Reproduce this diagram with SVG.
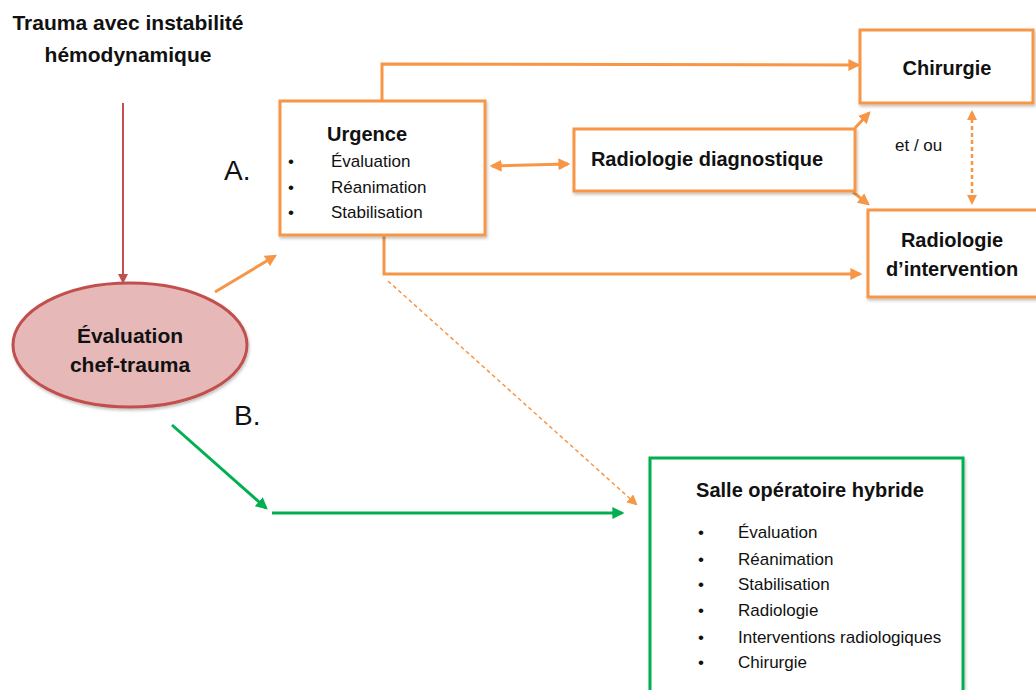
<svg xmlns="http://www.w3.org/2000/svg" width="1036" height="690" viewBox="0 0 1036 690">
<style>
.t{font-family:"Liberation Sans",Arial,sans-serif;fill:#111}
.b{font-weight:bold}
.box{fill:#fff;stroke:#f79646;stroke-width:3}
.gbox{fill:#fff;stroke:#00b050;stroke-width:3}
.o{fill:none;stroke:#f79646;stroke-width:3}
.od{fill:none;stroke:#f79646;stroke-width:1.5;stroke-dasharray:4 3}
.g{fill:none;stroke:#00b050;stroke-width:3}
.r{fill:none;stroke:#c0504d;stroke-width:2}
.lab{font-family:"Liberation Sans",Arial,sans-serif;font-size:28px;fill:#111}
</style>
<defs>
<marker id="ao" viewBox="0 0 10 10" refX="8" refY="5" markerWidth="4" markerHeight="4" orient="auto-start-reverse"><path d="M0,0L10,5L0,10z" fill="#f79646"/></marker>
<marker id="aod" viewBox="0 0 10 10" refX="8" refY="5" markerWidth="7" markerHeight="7" orient="auto-start-reverse"><path d="M0,0L10,5L0,10z" fill="#f79646"/></marker>
<marker id="ag" viewBox="0 0 10 10" refX="8" refY="5" markerWidth="4" markerHeight="4" orient="auto"><path d="M0,0L10,5L0,10z" fill="#00b050"/></marker>
<marker id="ar" viewBox="0 0 10 10" refX="8" refY="5" markerWidth="5" markerHeight="5" orient="auto"><path d="M0,0L10,5L0,10z" fill="#c0504d"/></marker>
<filter id="sh" x="-10%" y="-10%" width="120%" height="130%"><feDropShadow dx="1" dy="2" stdDeviation="1.5" flood-color="#000" flood-opacity="0.25"/></filter>
</defs>

<g id="connectors">
<line class="r" x1="123" y1="103" x2="123" y2="282" marker-end="url(#ar)"/>
<line class="o" x1="215" y1="292" x2="275" y2="256" marker-end="url(#ao)"/>
<polyline class="o" points="382,101 382,64 858,65" marker-end="url(#ao)"/>
<line class="o" x1="492" y1="166" x2="568" y2="164" marker-start="url(#ao)" marker-end="url(#ao)"/>
<line class="o" x1="855" y1="128" x2="869" y2="113" marker-end="url(#ao)"/>
<line class="o" x1="853" y1="192" x2="868" y2="204" marker-end="url(#ao)"/>
<line class="od" x1="972" y1="112" x2="972" y2="203" marker-start="url(#ao)" marker-end="url(#ao)" style="stroke-width:2.5"/>
<polyline class="o" points="384,235 384,274 860,274" marker-end="url(#ao)"/>
<line class="od" x1="388" y1="281" x2="636" y2="504" marker-end="url(#aod)"/>
<line class="g" x1="172" y1="425" x2="266" y2="508" marker-end="url(#ag)"/>
<line class="g" x1="272" y1="513" x2="622" y2="513" marker-end="url(#ag)"/>
</g>

<g id="title">
<text class="t b" x="128" y="30" font-size="21" text-anchor="middle">Trauma avec instabilité</text>
<text class="t b" x="128" y="62" font-size="21" text-anchor="middle">hémodynamique</text>
</g>

<g id="eval">
<ellipse cx="130" cy="345" rx="117" ry="62" fill="#e6b9b8" stroke="#c0504d" stroke-width="3" filter="url(#sh)"/>
<text class="t b" x="130" y="343" font-size="21" text-anchor="middle">Évaluation</text>
<text class="t b" x="130" y="372" font-size="21" text-anchor="middle">chef-trauma</text>
</g>

<text class="lab" x="224" y="180">A.</text>
<text class="lab" x="234" y="425">B.</text>

<g id="urgence">
<rect class="box" x="280" y="101" width="205" height="134" filter="url(#sh)"/>
<text class="t b" x="367" y="141" font-size="20" text-anchor="middle">Urgence</text>
<g class="t" font-size="17">
<text x="288" y="167">•</text><text x="331" y="167">Évaluation</text>
<text x="288" y="193">•</text><text x="331" y="193">Réanimation</text>
<text x="288" y="218">•</text><text x="331" y="218">Stabilisation</text>
</g>
</g>

<g id="radiodiag">
<rect class="box" x="574" y="129" width="281" height="62" filter="url(#sh)"/>
<text class="t b" x="707" y="166" font-size="20" text-anchor="middle">Radiologie diagnostique</text>
</g>

<g id="chirurgie">
<rect class="box" x="860" y="30" width="173" height="73" filter="url(#sh)"/>
<text class="t b" x="947" y="75" font-size="20" text-anchor="middle">Chirurgie</text>
</g>

<text class="t" x="895" y="151" font-size="17">et / ou</text>

<g id="radiointerv">
<rect class="box" x="868" y="210" width="172" height="87" filter="url(#sh)"/>
<text class="t b" x="952" y="247" font-size="20" text-anchor="middle">Radiologie</text>
<text class="t b" x="952" y="276" font-size="20" text-anchor="middle">d’intervention</text>
</g>

<g id="salle">
<rect class="gbox" x="650" y="458" width="313" height="240" filter="url(#sh)"/>
<text class="t b" x="810" y="497" font-size="20" text-anchor="middle">Salle opératoire hybride</text>
<g class="t" font-size="17">
<text x="698" y="538">•</text><text x="738" y="538">Évaluation</text>
<text x="698" y="565">•</text><text x="738" y="565">Réanimation</text>
<text x="698" y="590">•</text><text x="738" y="590">Stabilisation</text>
<text x="698" y="616">•</text><text x="738" y="616">Radiologie</text>
<text x="698" y="643">•</text><text x="738" y="643">Interventions  radiologiques</text>
<text x="698" y="668">•</text><text x="738" y="668">Chirurgie</text>
</g>
</g>
</svg>
